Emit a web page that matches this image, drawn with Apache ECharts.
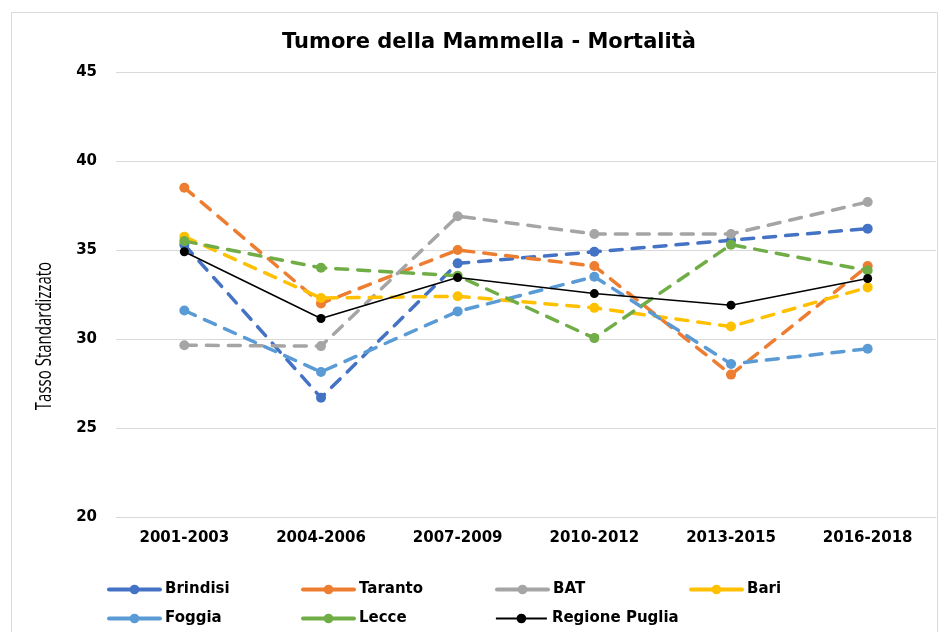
<!DOCTYPE html>
<html>
<head>
<meta charset="utf-8">
<script src="https://cdn.jsdelivr.net/npm/echarts@6/dist/echarts.min.js"></script>
<style>
html,body{margin:0;padding:0;background:#fff;}
#chart{width:944px;height:632px;}
</style>
</head>
<body>
<div id="chart"></div>
<script>
const categories = ['2001-2003','2004-2006','2007-2009','2010-2012','2013-2015','2016-2018'];
const brindisi = [35.3, 26.7, 34.25, 34.9, 35.55, 36.2];
const taranto  = [38.5, 32.0, 35.0, 34.1, 28.0, 34.1];
const bat      = [29.65, 29.6, 36.9, 35.9, 35.9, 37.7];
const bari     = [35.75, 32.3, 32.4, 31.75, 30.7, 32.9];
const foggia   = [31.6, 28.15, 31.55, 33.5, 28.6, 29.45];
const lecce    = [35.5, 34.0, 33.55, 30.05, 35.3, 33.85];
const puglia   = [34.9, 31.15, 33.45, 32.55, 31.9, 33.4];
const seriesNames = ['Brindisi','Taranto','BAT','Bari','Foggia','Lecce','Regione Puglia'];
const yTicks = {min: 20, max: 45, interval: 5};

const colors = ['#4472C4','#ED7D31','#A5A5A5','#FFC000','#5B9BD5','#70AD47','#000000'];
const dataList = [brindisi, taranto, bat, bari, foggia, lecce, puglia];
const FONT = '"DejaVu Sans", "Open Sans", sans-serif';
const FONT2 = '"Open Sans", "DejaVu Sans", sans-serif';

const series = dataList.map((d, i) => {
  const isRegion = i === 6;
  return {
    name: seriesNames[i],
    type: 'line',
    data: d,
    symbol: 'circle',
    symbolSize: isRegion ? 9 : 10,
    itemStyle: {color: colors[i]},
    lineStyle: isRegion
      ? {color: colors[i], width: 1.5, type: 'solid'}
      : {color: colors[i], width: 3.5, type: [12, 10], cap: 'round'},
    z: 2 + i
  };
});

const legendData = seriesNames.map((n, i) => ({
  name: n,
  lineStyle: i === 6 ? {width: 1.8, type: 'solid'} : {width: 4, type: 'solid'}
}));

const chart = echarts.init(document.getElementById('chart'), null, {renderer: 'canvas'});
chart.setOption({
  animation: false,
  backgroundColor: '#fff',
  color: colors,
  title: {
    text: 'Tumore della Mammella - Mortalità',
    left: 484,
    textAlign: 'center',
    top: 27,
    textStyle: {fontFamily: FONT, fontSize: 21, fontWeight: 'bold', color: '#000'}
  },
  graphic: [
    {type: 'rect', shape: {x: 11.5, y: 12.5, width: 926, height: 640}, style: {fill: 'none', stroke: '#d9d9d9', lineWidth: 1}, z: -1},
    {type: 'text', x: 45, y: 336, rotation: Math.PI / 2, scaleY: 1.4,
     style: {text: 'Tasso Standardizzato', font: '15px ' + FONT2, fill: '#000', textAlign: 'center', textVerticalAlign: 'middle'}}
  ],
  grid: {left: 116, right: 8, top: 72, bottom: 115, containLabel: false},
  xAxis: {
    type: 'category',
    data: categories,
    boundaryGap: true,
    axisLine: {show: true, lineStyle: {color: '#d9d9d9', width: 1}},
    axisTick: {show: false},
    axisLabel: {margin: 14, color: '#000', fontFamily: FONT, fontSize: 15, fontWeight: 'bold'}
  },
  yAxis: {
    type: 'value',
    min: yTicks.min, max: yTicks.max, interval: yTicks.interval,
    axisLine: {show: false},
    axisTick: {show: false},
    splitLine: {lineStyle: {color: '#d9d9d9', width: 1}},
    axisLabel: {margin: 19, color: '#000', fontFamily: FONT, fontSize: 15, fontWeight: 'bold'}
  },
  legend: {
    data: legendData,
    left: 102,
    top: 575,
    width: 780,
    orient: 'horizontal',
    itemWidth: 51,
    itemHeight: 12,
    itemGap: 10,
    textStyle: {width: 126, lineHeight: 19, fontFamily: FONT, fontSize: 15, fontWeight: 'bold', color: '#000'}
  },
  series: series
});
</script>
</body>
</html>
